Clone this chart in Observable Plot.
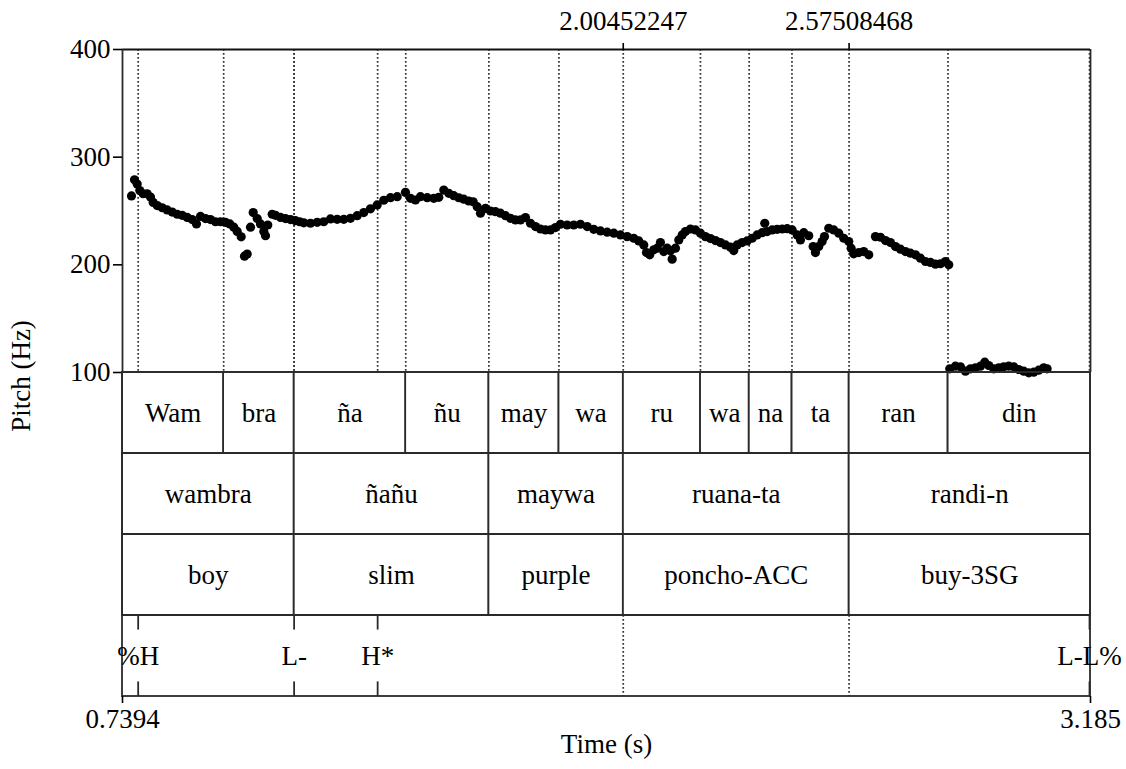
<!DOCTYPE html>
<html><head><meta charset="utf-8">
<script src="https://cdn.jsdelivr.net/npm/d3@7"></script>
<script src="https://cdn.jsdelivr.net/npm/@observablehq/plot@0.6"></script>
<style>
body{margin:0;background:#fff;}
#chart{position:relative;width:1126px;height:769px;font-family:"Liberation Serif","Times New Roman",serif;}
#chart svg{position:absolute;left:0;overflow:visible;}
#ylab{position:absolute;left:21px;top:376px;transform:translate(-50%,-50%) rotate(-90deg);font-size:27px;white-space:nowrap;color:#000;font-family:"Liberation Serif","Times New Roman",serif;}
</style></head><body><div id="chart"></div>
<script>
// ---- data ----
const timeStart = 0.7394, timeEnd = 3.185;
const bottomTickLabels = ["0.7394", "3.185"];
const topTickTimes = [2.00452247, 2.57508468];
const topTickLabels = ["2.00452247", "2.57508468"];
const yTicks = [100, 200, 300, 400];

const pitchTime = [0.7621,0.7697,0.7765,0.7831,0.7917,0.8018,0.8101,0.8170,0.8271,0.8397,0.8523,0.8650,0.8776,0.8902,0.9029,0.9155,0.9263,0.9365,0.9491,0.9617,0.9743,0.9870,0.9996,1.0105,1.0206,1.0292,1.0393,1.0476,1.0544,1.0628,1.0696,1.0797,1.0880,1.0964,1.1007,1.1065,1.1176,1.1259,1.1386,1.1512,1.1638,1.1765,1.1870,1.1974,1.2143,1.2313,1.2479,1.2649,1.2818,1.2985,1.3154,1.3323,1.3490,1.3659,1.3828,1.3995,1.4164,1.4334,1.4543,1.4670,1.4796,1.4922,1.5092,1.5258,1.5385,1.5511,1.5637,1.5764,1.5890,1.6016,1.6143,1.6254,1.6355,1.6438,1.6564,1.6691,1.6817,1.6943,1.7070,1.7196,1.7322,1.7449,1.7575,1.7701,1.7828,1.7954,1.8080,1.8207,1.8333,1.8459,1.8628,1.8795,1.8964,1.9134,1.9300,1.9470,1.9639,1.9806,1.9975,2.0144,2.0311,2.0437,2.0564,2.0632,2.0715,2.0816,2.0902,2.0985,2.1069,2.1155,2.1238,2.1281,2.1364,2.1448,2.1534,2.1617,2.1743,2.1870,2.1996,2.2122,2.2249,2.2375,2.2501,2.2628,2.2754,2.2837,2.2923,2.3049,2.3176,2.3302,2.3428,2.3555,2.3620,2.3681,2.3807,2.3934,2.4060,2.4186,2.4313,2.4439,2.4522,2.4606,2.4732,2.4843,2.4901,2.4984,2.5070,2.5129,2.5237,2.5364,2.5490,2.5616,2.5743,2.5803,2.5869,2.5995,2.6121,2.6248,2.6417,2.6543,2.6670,2.6796,2.6922,2.7049,2.7175,2.7301,2.7428,2.7554,2.7680,2.7807,2.7933,2.8059,2.8185,2.8269,2.8294,2.8438,2.8564,2.8691,2.8817,2.8943,2.9070,2.9178,2.9279,2.9405,2.9532,2.9658,2.9784,2.9911,3.0037,3.0163,3.0290,3.0416,3.0542,3.0669,3.0754];
const pitchHz = [264,279,275,269,266,266,263,258,255,253,251,249,247,246,244,242,238,245,243,242,240,240,239.5,238,235,231,226,208,210,235,248.5,243,238,231,227,237,247,246,244,243,242,241,240,239,238.6,239.5,240,242.6,242.3,242.3,243.2,245.7,248.5,252,255.6,260,262.4,263.3,267.3,261.8,260.2,263.3,262.4,261.8,262.7,269.4,266.4,264.2,262.3,261,259.3,258.6,254,248,252.5,250,249.4,248,245.7,243.2,241.7,241.7,243.9,238.6,235.5,233.3,232.4,232.4,234.6,237.7,237,237,237.7,235.5,233,231.5,230.3,229.4,227.8,226.2,224.7,222.2,218.5,211.4,209.3,213.9,215.5,220.7,212.3,215.5,213,205.3,215.5,223.1,227.8,230.9,233.3,232.4,229.4,226.2,224.4,222.5,220.7,218.5,216.4,213.2,218.5,220.7,222.2,224.7,227.8,229.9,238.6,230.9,232.4,233,233.3,233.6,232.4,227.8,223.1,229.9,227,217,211.4,217,221.6,226.2,234,232.4,229.4,224.7,221.6,215.5,210.2,211.4,212.3,209.3,226.2,225.6,222.5,220.7,217,214.5,212.3,210.8,209.3,206.2,203.1,202.2,200.6,201,203.1,200,103.4,105.9,105.3,101.2,103.4,104.3,105.9,109.6,106.5,103.4,104.3,105.3,105.9,105.3,102.8,101.2,99.7,100.3,102.2,104.3,103.4];

const tierNames = ["syllables", "words", "glosses", "tones"];
const syllableLabels = ["Wam","bra","ña","ñu","may","wa","ru","wa","na","ta","ran","din"];
const syllableBounds = [0.7394,0.995,1.173,1.455,1.665,1.842,2.00452247,2.1996,2.3226,2.4308,2.57508468,2.825,3.185];
const wordLabels = ["wambra","ñañu","maywa","ruana-ta","randi-n"];
const glossLabels = ["boy","slim","purple","poncho-ACC","buy-3SG"];
const wordBounds = [0.7394,1.173,1.665,2.00452247,2.57508468,3.185];
const toneLabels = ["%H","L-","H*","L-L%"];
const toneTimes = [0.779,1.173,1.384,3.1825];

// ---- derived tables ----
const pitch = pitchTime.map((t, i) => ({t, hz: pitchHz[i]}));
const intervals = [
  ...syllableLabels.map((label, i) => ({tier: 0, label, start: syllableBounds[i], end: syllableBounds[i + 1]})),
  ...wordLabels.map((label, i) => ({tier: 1, label, start: wordBounds[i], end: wordBounds[i + 1]})),
  ...glossLabels.map((label, i) => ({tier: 2, label, start: wordBounds[i], end: wordBounds[i + 1]}))
];
const tones = toneLabels.map((label, i) => ({label, t: toneTimes[i]}));
const dottedTimes = [...syllableBounds.slice(1, -1), ...toneTimes];

const FONT = "'Liberation Serif','Times New Roman',serif";
const LINE = "#2a2a2a";
const DOT = "1.8,2.2";
const FS = "27px";

const topPlot = Plot.plot({
  width: 1126, height: 373,
  marginLeft: 122, marginRight: 36, marginTop: 49, marginBottom: 1,
  style: {fontFamily: FONT, fontSize: FS, color: "#000", background: "transparent", overflow: "visible"},
  x: {domain: [timeStart, timeEnd]},
  y: {domain: [100, 400]},
  marks: [
    Plot.ruleX(dottedTimes, {stroke: "#333", strokeWidth: 1.7, strokeDasharray: DOT}),
    Plot.ruleY([400], {stroke: "#111", strokeWidth: 2.2}),
    Plot.ruleX([timeStart, timeEnd], {stroke: LINE, strokeWidth: 1.8}),
    Plot.axisY({ticks: yTicks, tickSize: 9, tickPadding: 3, label: null, tickFormat: d => String(d), strokeWidth: 1.6}),
    Plot.axisX({anchor: "top", ticks: topTickTimes, tickFormat: d => topTickLabels[topTickTimes.indexOf(d)], tickSize: 7, tickPadding: 13, label: null, strokeWidth: 1.6}),
    Plot.dot(pitch, {x: "t", y: "hz", r: 4.6, fill: "#000", stroke: "none"})
  ]
});
topPlot.style.top = "0px";

const tierPlot = Plot.plot({
  width: 1126, height: 397,
  marginLeft: 122, marginRight: 36, marginTop: 0, marginBottom: 73,
  style: {fontFamily: FONT, fontSize: FS, color: "#000", background: "transparent", overflow: "visible"},
  x: {domain: [timeStart, timeEnd]},
  y: {domain: [0, 4], reverse: true, axis: null},
  marks: [
    Plot.ruleX(topTickTimes, {y1: 3, y2: 4, stroke: "#333", strokeWidth: 1.7, strokeDasharray: DOT}),
    Plot.rect(tierNames, {x1: timeStart, x2: timeEnd, y1: (d, i) => i, y2: (d, i) => i + 1, stroke: LINE, strokeWidth: 1.8, fill: "none"}),
    Plot.rect(intervals, {x1: "start", x2: "end", y1: "tier", y2: d => d.tier + 1, stroke: LINE, strokeWidth: 1.6, fill: "none"}),
    Plot.text(intervals, {x: d => (d.start + d.end) / 2, y: d => d.tier + 0.5, text: "label", fill: "#000"}),
    Plot.ruleX(tones, {x: "t", y1: 3, y2: 3.18, stroke: LINE, strokeWidth: 1.8}),
    Plot.ruleX(tones, {x: "t", y1: 3.82, y2: 4, stroke: LINE, strokeWidth: 1.8}),
    Plot.text(tones, {x: "t", y: 3.5, text: "label", fill: "#000"}),
    Plot.axisX({anchor: "bottom", ticks: [timeStart, timeEnd], tickFormat: d => bottomTickLabels[[timeStart, timeEnd].indexOf(d)], tickSize: 7, tickPadding: 5, label: null, strokeWidth: 1.6}),
    Plot.text(["Time (s)"], {frameAnchor: "bottom", dy: 56, fill: "#000"})
  ]
});
tierPlot.style.top = "372px";

const chart = document.getElementById("chart");
chart.appendChild(topPlot);
chart.appendChild(tierPlot);
const ylab = document.createElement("div");
ylab.id = "ylab";
ylab.textContent = "Pitch (Hz)";
chart.appendChild(ylab);
</script>
</body></html>
